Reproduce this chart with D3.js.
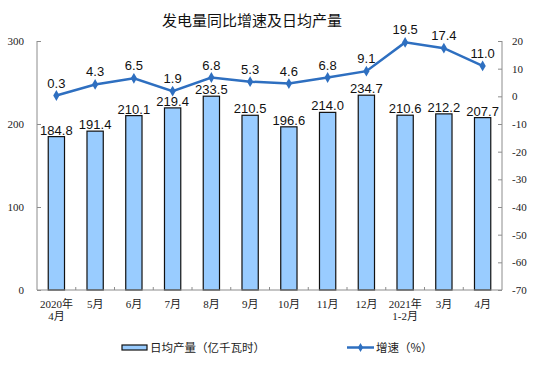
<!DOCTYPE html>
<html><head><meta charset="utf-8">
<script src="https://cdn.jsdelivr.net/npm/d3@7/dist/d3.min.js"></script>
<style>body{margin:0;background:#fff;} svg{display:block;}</style>
</head><body>
<svg id="c" width="554" height="381"></svg>
<script>
const categories = [["2020年","4月"],["5月"],["6月"],["7月"],["8月"],["9月"],["10月"],["11月"],["12月"],["2021年","1-2月"],["3月"],["4月"]];
const dailyOutput = [184.8,191.4,210.1,219.4,233.5,210.5,196.6,214.0,234.7,210.6,212.2,207.7];
const growth = [0.3,4.3,6.5,1.9,6.8,5.3,4.6,6.8,9.1,19.5,17.4,11.0];
const leftTicks = [0,100,200,300];
const rightTicks = [20,10,0,-10,-20,-30,-40,-50,-60,-70];
const title = "发电量同比增速及日均产量";
const legendBar = "日均产量（亿千瓦时）";
const legendLine = "增速（%）";

const svg = d3.select("#c");
const L = 37, R = 502, T = 41, B = 290;
const axisColor = "#8c8c8c";
const barFill = "#99ccff", lineColor = "#2e6fc0";
const serif = "'Liberation Serif','Times New Roman','Noto Sans CJK SC',serif";
const sans = "'Liberation Sans',Arial,sans-serif";
const cjk = "'Noto Sans CJK SC',sans-serif";

const x = d3.scaleBand().domain(d3.range(categories.length)).range([L, R]).paddingInner(0.58).paddingOuter(0.29);
const xb = d3.scaleBand().domain(d3.range(categories.length)).range([L, R]);
const yL = d3.scaleLinear().domain([0,300]).range([B, T]);
const yR = d3.scaleLinear().domain([-70,20]).range([B, T]);

// title
svg.append("text").attr("x", 252).attr("y", 26).attr("text-anchor","middle")
  .attr("font-family", cjk).attr("font-size", 15).attr("fill","#111").text(title);

// bars
svg.append("g").selectAll("rect").data(dailyOutput).join("rect")
  .attr("x",(d,i)=>x(i)).attr("width",x.bandwidth())
  .attr("y",d=>yL(d)).attr("height",d=>B-yL(d))
  .attr("fill",barFill).attr("stroke","#111").attr("stroke-width",1.2);

// bar labels
svg.append("g").selectAll("text").data(dailyOutput).join("text")
  .attr("x",(d,i)=>xb(i)+xb.bandwidth()/2).attr("y",d=>yL(d)-2)
  .attr("text-anchor","middle").attr("font-family",sans).attr("font-size",13).attr("fill","#111")
  .text(d=>d.toFixed(1));

// left axis
const gl = svg.append("g").attr("transform",`translate(${L},0)`)
  .call(d3.axisRight(yL).tickValues(leftTicks).tickSize(4).tickFormat(""));
gl.select(".domain").attr("stroke",axisColor).attr("d",`M0,${T}V${B}`);
gl.selectAll(".tick line").attr("stroke",axisColor);
svg.append("g").selectAll("text").data(leftTicks).join("text")
  .attr("x",24).attr("y",d=>yL(d)+4).attr("text-anchor","end")
  .attr("font-family",serif).attr("font-size",11).attr("fill","#222").text(d=>d);

// right axis
const gr = svg.append("g").attr("transform",`translate(${R},0)`)
  .call(d3.axisLeft(yR).tickValues(rightTicks).tickSize(4).tickFormat(""));
gr.select(".domain").attr("stroke",axisColor).attr("d",`M0,${T}V${B}`);
gr.selectAll(".tick line").attr("stroke",axisColor);
svg.append("g").selectAll("text").data(rightTicks).join("text")
  .attr("x",512).attr("y",d=>yR(d)+4).attr("text-anchor","start")
  .attr("font-family",serif).attr("font-size",11).attr("fill","#222").text(d=>d);

// bottom axis
const gb = svg.append("g").attr("transform",`translate(0,${B})`);
gb.append("line").attr("x1",L).attr("x2",R).attr("stroke",axisColor);
gb.selectAll("line.t").data(d3.range(1,categories.length)).join("line").attr("class","t")
  .attr("x1",i=>xb(i)).attr("x2",i=>xb(i)).attr("y1",0).attr("y2",-3).attr("stroke",axisColor);
const xl = svg.append("g").selectAll("text").data(categories).join("text")
  .attr("x",(d,i)=>xb(i)+xb.bandwidth()/2).attr("y",308)
  .attr("text-anchor","middle").attr("font-family",serif).attr("font-size",11).attr("fill","#222");
xl.each(function(d){
  const t = d3.select(this);
  d.forEach((s,k)=>t.append("tspan").attr("x",t.attr("x")).attr("dy",k?12:0).text(s));
});

// line
const line = d3.line().x((d,i)=>xb(i)+xb.bandwidth()/2).y(d=>yR(d));
svg.append("path").datum(growth).attr("d",line).attr("fill","none")
  .attr("stroke",lineColor).attr("stroke-width",2.5);
const diamond = d3.symbol().type(d3.symbolDiamond).size(34);
svg.append("g").selectAll("path").data(growth).join("path")
  .attr("transform",(d,i)=>`translate(${xb(i)+xb.bandwidth()/2},${yR(d)})`)
  .attr("d",diamond).attr("fill",lineColor);
svg.append("g").selectAll("text").data(growth).join("text")
  .attr("x",(d,i)=>xb(i)+xb.bandwidth()/2).attr("y",d=>yR(d)-8)
  .attr("text-anchor","middle").attr("font-family",sans).attr("font-size",13).attr("fill","#111")
  .text(d=>d.toFixed(1));

// legend
svg.append("rect").attr("x",122).attr("y",345).attr("width",25).attr("height",5)
  .attr("fill",barFill).attr("stroke","#111").attr("stroke-width",1.2);
svg.append("text").attr("x",150).attr("y",352).attr("font-family",cjk).attr("font-size",11.5)
  .attr("fill","#222").text(legendBar);
svg.append("line").attr("x1",347).attr("x2",374).attr("y1",347.5).attr("y2",347.5)
  .attr("stroke",lineColor).attr("stroke-width",2.5);
svg.append("path").attr("transform","translate(360.5,347.5)").attr("d",d3.symbol().type(d3.symbolDiamond).size(24)).attr("fill",lineColor);
svg.append("text").attr("x",376).attr("y",352).attr("font-family",cjk).attr("font-size",11.5)
  .attr("fill","#222").text(legendLine);
</script>
</body></html>
